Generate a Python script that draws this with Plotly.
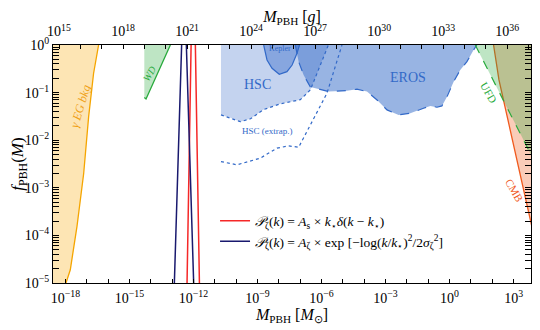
import math
import plotly.graph_objects as go

# ---------------- data (M in solar masses, f = f_PBH) ----------------
gam_M = [3.6e-17, 2.1e-17, 1.23e-17, 7.2e-18, 3.5e-18, 1.7e-18, 9.5e-19]
gam_f = [1.0, 0.255, 0.0313, 2.0e-3, 1.55e-4, 1.9e-5, 8.5e-6]

wd_M = [5.0e-15, 5.0e-15, 6.0e-15, 7.7e-14, 8.3e-14]
wd_f = [1.0, 0.079, 0.0736, 0.93, 1.0]

hsc_M = [1.95e-11, 1.95e-11, 5.4e-11, 1.58e-10, 4.7e-10, 1.86e-9, 1.17e-8, 1.02e-7, 3.0e-7, 2.1e-6]
hsc_f = [1.0, 0.034, 0.0295, 0.0245, 0.0282, 0.0437, 0.058, 0.071, 0.114, 1.0]

hscx_M = [1.95e-11, 1.1e-10, 1.36e-9, 8.2e-9, 2.9e-8, 8.5e-8, 1.8e-6, 9.1e-6]
hscx_f = [3.56e-3, 3.04e-3, 4.2e-3, 6.8e-3, 7.6e-3, 7.1e-3, 0.097, 1.0]

kep_M = [1.95e-9, 2.8e-9, 4.8e-9, 1.05e-8, 2.4e-8, 4.2e-8, 7.1e-8, 9.3e-8]
kep_f = [1.0, 0.484, 0.324, 0.243, 0.275, 0.38, 0.67, 1.0]

eros_M = [5.9e-8, 8.5e-8, 1.45e-7, 3.0e-7, 2.14e-6, 1.55e-5, 4.6e-5, 1.35e-4, 4.0e-4,
          1.17e-3, 4.1e-3, 0.0145, 0.060, 0.126, 0.257, 0.437, 0.76, 1.55, 3.16, 6.5, 13.3, 19.0]
eros_f = [1.0, 0.447, 0.235, 0.1315, 0.105, 0.110, 0.118, 0.105, 0.070,
          0.0433, 0.034, 0.0369, 0.047, 0.0525, 0.0493, 0.0525, 0.082, 0.17, 0.30, 0.447, 0.785, 1.0]

ufd_M = [16.0, 1.0e4]
ufd_f = [1.0, 3.4e-3]

cmb_M = [115.0, 206.0, 1.0e4]
cmb_f = [1.0, 0.185, 7.9e-5]

navy_M = [1.09e-13, 2.8e-13, 3.6e-13, 4.65e-13, 1.2e-12]
navy_f = [1e-6, 1.0, 40.0, 1.0, 1e-6]

red_M = [4.59e-13, 7.76e-13, 9.77e-13, 1.23e-12, 2.08e-12]
red_f = [1e-6, 1.0, 427.0, 1.0, 1e-6]

x_label_decades = [-18, -15, -12, -9, -6, -3, 0, 3]
g_label_decades = [15, 18, 21, 24, 27, 30, 33, 36]
y_decades = [-5, -4, -3, -2, -1, 0]

MSUN_G = 1.989e33
XMIN, XMAX = -18.58, 3.815
M_EDGE_LO = 1e-19
TOP = 1.0

FONT = "Liberation Serif"
BLUE = "rgb(50,105,200)"


def sup(e):
    s = str(e).replace("-", "\u2212")
    return "10<sup>%s</sup>" % s


fig = go.Figure()

# gamma-ray extragalactic background
fig.add_trace(go.Scatter(x=gam_M + [M_EDGE_LO, M_EDGE_LO], y=gam_f + [gam_f[-1], TOP],
                         fill="toself", fillcolor="rgba(250,180,40,0.35)", mode="lines",
                         line=dict(width=0), hoverinfo="skip", showlegend=False))
fig.add_trace(go.Scatter(x=gam_M, y=gam_f, mode="lines", line=dict(color="rgb(245,165,0)", width=1.3),
                         showlegend=False))

# white dwarfs
fig.add_trace(go.Scatter(x=wd_M, y=wd_f, fill="toself", fillcolor="rgba(40,170,60,0.3)", mode="lines",
                         line=dict(width=0), hoverinfo="skip", showlegend=False))
fig.add_trace(go.Scatter(x=wd_M[1:], y=wd_f[1:], mode="lines", line=dict(color="rgb(40,170,60)", width=1.3),
                         showlegend=False))

# HSC
fig.add_trace(go.Scatter(x=hsc_M, y=hsc_f, fill="toself", fillcolor="rgba(50,105,200,0.29)", mode="lines",
                         line=dict(width=0), hoverinfo="skip", showlegend=False))
# EROS
fig.add_trace(go.Scatter(x=eros_M, y=eros_f, fill="toself", fillcolor="rgba(50,105,200,0.5)", mode="lines",
                         line=dict(width=0), hoverinfo="skip", showlegend=False))
# Kepler
fig.add_trace(go.Scatter(x=kep_M, y=kep_f, fill="toself", fillcolor="rgba(50,105,200,0.42)", mode="lines",
                         line=dict(width=0), hoverinfo="skip", showlegend=False))

fig.add_trace(go.Scatter(x=hsc_M[1:], y=hsc_f[1:], mode="lines",
                         line=dict(color=BLUE, width=1.2, dash="dot"), showlegend=False))
fig.add_trace(go.Scatter(x=hscx_M, y=hscx_f, mode="lines",
                         line=dict(color=BLUE, width=1.2, dash="dot"), showlegend=False))
fig.add_trace(go.Scatter(x=eros_M, y=eros_f, mode="lines",
                         line=dict(color=BLUE, width=1.2, dash="dash"), showlegend=False))
fig.add_trace(go.Scatter(x=kep_M, y=kep_f, mode="lines",
                         line=dict(color=BLUE, width=1.2), showlegend=False))

# CMB
fig.add_trace(go.Scatter(x=cmb_M + [cmb_M[-1]], y=cmb_f + [TOP], fill="toself",
                         fillcolor="rgba(240,100,40,0.33)", mode="lines", line=dict(width=0),
                         hoverinfo="skip", showlegend=False))
fig.add_trace(go.Scatter(x=cmb_M, y=cmb_f, mode="lines", line=dict(color="rgb(240,90,30)", width=1.3),
                         showlegend=False))
# UFD
fig.add_trace(go.Scatter(x=ufd_M + [ufd_M[-1]], y=ufd_f + [TOP], fill="toself",
                         fillcolor="rgba(40,170,60,0.3)", mode="lines", line=dict(width=0),
                         hoverinfo="skip", showlegend=False))
fig.add_trace(go.Scatter(x=ufd_M, y=ufd_f, mode="lines",
                         line=dict(color="rgb(40,170,60)", width=1.2, dash="dash"), showlegend=False))

# PBH abundance curves
fig.add_trace(go.Scatter(x=red_M, y=red_f, mode="lines", line=dict(color="rgb(245,40,40)", width=1.5),
                         name="<i>\U0001d4ab</i><sub>\u03b6</sub>(<i>k</i>) = <i>A</i><sub>s</sub> \u00d7 "
                              "<i>k</i><sub>\u22c6</sub><i>\u03b4</i>(<i>k</i> \u2212 <i>k</i><sub>\u22c6</sub>)"))
fig.add_trace(go.Scatter(x=navy_M, y=navy_f, mode="lines", line=dict(color="rgb(25,25,110)", width=1.5),
                         name="<i>\U0001d4ab</i><sub>\u03b6</sub>(<i>k</i>) = <i>A</i><sub>\u03b6</sub> \u00d7 "
                              "exp [\u2212log(<i>k</i>/<i>k</i><sub>\u22c6</sub>)<sup>2</sup>/2<i>\u03c3</i>"
                              "<sub>\u03b6</sub><sup>2</sup>]"))

# top axis helper (invisible)
fig.add_trace(go.Scatter(x=[10.0 ** (XMIN + math.log10(MSUN_G))], y=[1e-3], xaxis="x2", mode="markers",
                         marker=dict(opacity=0), hoverinfo="skip", showlegend=False))

x_all = list(range(-18, 4))
g_all = list(range(15, 38))
minor_y = [m * 10.0 ** d for d in range(-5, 0) for m in range(2, 10)]

axis_common = dict(showgrid=False, zeroline=False, showline=True, linecolor="black", linewidth=1,
                   automargin=False,
                   ticks="inside", tickcolor="black", tickfont=dict(family=FONT, size=14, color="black"))

# the page body adds an 8px offset, so the figure is 8px smaller than the window
fig.update_layout(
    template="none",
    width=532, height=322,
    margin=dict(l=45, r=9, t=37, b=47),
    paper_bgcolor="white", plot_bgcolor="white",
    font=dict(family=FONT, color="black"),
    xaxis=dict(type="log", range=[XMIN, XMAX], tickmode="array",
               tickvals=[10.0 ** d for d in x_all],
               ticktext=[sup(d) if d in x_label_decades else "" for d in x_all],
               ticklen=4, mirror=False, ticklabelstandoff=2,
               title=dict(text="<i>M</i><sub>PBH</sub> [<i>M</i><sub>\u2299</sub>]",
                          font=dict(family=FONT, size=16), standoff=3),
               **axis_common),
    xaxis2=dict(type="log", overlaying="x", side="top", anchor="y",
                range=[XMIN + math.log10(MSUN_G), XMAX + math.log10(MSUN_G)], tickmode="array",
                tickvals=[10.0 ** d for d in g_all],
                ticktext=[sup(d) if d in g_label_decades else "" for d in g_all],
                ticklen=4, ticklabelstandoff=2,
                title=dict(text="<i>M</i><sub>PBH</sub> [<i>g</i>]", font=dict(family=FONT, size=16),
                           standoff=13),
                **axis_common),
    yaxis=dict(type="log", range=[-5, 0], tickmode="array",
               tickvals=[10.0 ** d for d in y_decades], ticktext=[sup(d) for d in y_decades],
               ticklen=6, mirror="allticks",
               minor=dict(tickmode="array", tickvals=minor_y, ticks="inside", ticklen=3, tickcolor="black"),
               title=dict(text="<i>f</i><sub>PBH</sub>(<i>M</i>)", font=dict(family=FONT, size=17), standoff=6),
               **axis_common),
    legend=dict(x=0.339, y=0.326, xanchor="left", yanchor="top", bgcolor="rgba(0,0,0,0)",
                font=dict(family=FONT, size=13.5, color="black"), itemwidth=30),
)

ann = [
    dict(text="<i>\u03b3 EG bkg</i>", x=-17.30, y=-1.28, textangle=-73, size=12, color="rgb(240,160,20)"),
    dict(text="<i>WD</i>", x=-14.07, y=-0.59, textangle=-60, size=10, color="rgb(40,170,60)"),
    dict(text="HSC", x=-9.0, y=-0.84, textangle=0, size=14, color=BLUE),
    dict(text="HSC (extrap.)", x=-8.52, y=-1.80, textangle=0, size=9, color=BLUE),
    dict(text="Kepler", x=-7.93, y=-0.08, textangle=0, size=8, color=BLUE),
    dict(text="EROS", x=-1.97, y=-0.69, textangle=0, size=14, color=BLUE),
    dict(text="UFD", x=1.86, y=-1.0, textangle=60, size=11, color="rgb(40,170,60)"),
    dict(text="CMB", x=3.02, y=-3.05, textangle=60, size=11, color="rgb(240,90,30)"),
]
for a in ann:
    fig.add_annotation(x=a["x"], y=a["y"], xref="x", yref="y", text=a["text"], showarrow=False,
                       textangle=a["textangle"], font=dict(family=FONT, size=a["size"], color=a["color"]))

fig.write_html("out.html")
